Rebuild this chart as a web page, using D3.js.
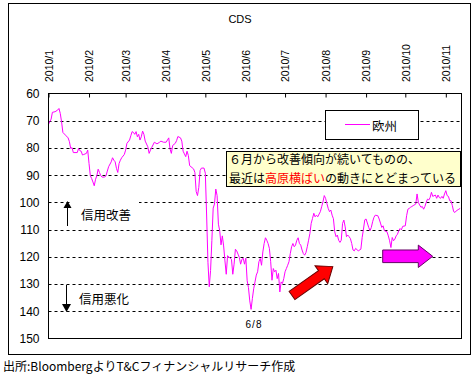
<!DOCTYPE html>
<html><head><meta charset="utf-8">
<script src="https://cdn.jsdelivr.net/npm/d3@7"></script>
<style>
body{margin:0;background:#fff;}
svg text{font-family:"Liberation Sans",Arial,sans-serif;}
.jp{font-family:"Noto Sans CJK JP","Noto Sans",sans-serif;}
</style>
</head><body>
<svg id="c" width="475" height="374"></svg>
<script>
const title = "CDS";
const seriesName = "欧州";
const monthTickLabels = ["2010/1","2010/2","2010/3","2010/4","2010/5","2010/6","2010/7","2010/8","2010/9","2010/10","2010/11"];
const monthTickDates = ["01-01","02-01","03-01","04-01","05-01","06-01","07-01","08-01","09-01","10-01","11-01"];
const yTicks = [60,70,80,90,100,110,120,130,140,150];
const gridValues = [70,80,90,100,110,120,130,140];
const dates = [
"01-01","01-03","01-04","01-06","01-08","01-09","01-10","01-11","01-12","01-14","01-16","01-17","01-18","01-19","01-20","01-23","01-24","01-25","01-26","01-27","01-28","01-30","01-31",
"02-01","02-02","02-03","02-04","02-05","02-06","02-07","02-08","02-09","02-10","02-11","02-13","02-14","02-15","02-16","02-18","02-19","02-20","02-21","02-22","02-23","02-24","02-25","02-26","02-28",
"03-01","03-02","03-04","03-05","03-06","03-07","03-08","03-09","03-10","03-11","03-12","03-13","03-14","03-15","03-16","03-18","03-19","03-20","03-21","03-23","03-25","03-27","03-28","03-30",
"04-01","04-03","04-04","04-05","04-06","04-08","04-09","04-10","04-12","04-13","04-14","04-15","04-16","04-17","04-18","04-19","04-20","04-22","04-23","04-24","04-25","04-26","04-27","04-28","04-30",
"05-01","05-02","05-03","05-04","05-05","05-06","05-07","05-08","05-09","05-10","05-11","05-12","05-13","05-14","05-15","05-16","05-17","05-18","05-20","05-21","05-22","05-23","05-24","05-25","05-26","05-27","05-28","05-29","05-30","05-31",
"06-01","06-02","06-03","06-04","06-05","06-06","06-07","06-08","06-09","06-10","06-11","06-12","06-13","06-14","06-15","06-16","06-17","06-18","06-19","06-20","06-21","06-22","06-23","06-24","06-25","06-26","06-27","06-28","06-29","06-30",
"07-01","07-02","07-03","07-04","07-05","07-06","07-07","07-08","07-09","07-10","07-11","07-12","07-13","07-14","07-15","07-16","07-17","07-18","07-19","07-20","07-21","07-22","07-23","07-24","07-25","07-26","07-28","07-29","07-30","07-31",
"08-01","08-02","08-03","08-04","08-05","08-06","08-07","08-08","08-09","08-10","08-11","08-12","08-13","08-14","08-15","08-16","08-17","08-18","08-19","08-20","08-21","08-22","08-23","08-24","08-26","08-28","08-29","08-30","08-31",
"09-01","09-03","09-04","09-05","09-06","09-07","09-08","09-10","09-11","09-12","09-13","09-14","09-15","09-17","09-18","09-19","09-20","09-21","09-22","09-23","09-24","09-25","09-26","09-27","09-28","09-29",
"10-01","10-02","10-03","10-04","10-05","10-06","10-07","10-09","10-10","10-11","10-12","10-13","10-14","10-15","10-16","10-17","10-18","10-19","10-20","10-21","10-22","10-24","10-25","10-26","10-27","10-28","10-29","10-30","10-31",
"11-01","11-02","11-03","11-04","11-05","11-06","11-07","11-08","11-09","11-11","11-12"
];
const cds = [
71.3,69.4,66.9,66.7,66.1,65.5,67.3,70.4,74.3,75.3,76.3,77.7,80.2,79.9,81.7,81.7,80.2,81.0,81.2,82.6,82.4,82.0,80.8,
85.7,90.2,91.2,92.5,93.9,91.5,90.2,87.8,89.0,90.2,90.7,90.7,90.2,88.5,86.9,85.1,83.6,84.5,85.1,87.5,89.0,85.7,84.5,83.6,82.4,
80.8,78.3,77.1,75.5,74.0,74.3,75.0,74.0,75.9,75.0,77.1,75.9,73.8,75.0,77.5,79.6,82.0,80.8,79.8,77.9,78.5,77.9,77.5,77.9,
77.9,76.3,80.4,82.0,79.1,78.3,77.3,75.8,76.3,77.5,81.2,82.2,83.2,81.2,82.8,86.5,86.9,87.7,89.0,96.0,97.5,94.5,88.3,87.4,87.4,
89.3,105.0,122.0,131.0,125.0,114.0,102.1,100.6,95.1,97.5,108.0,110.4,115.6,112.3,116.0,121.5,126.4,119.6,120.5,120.9,126.4,122.7,117.2,117.8,119.0,120.2,122.7,120.9,120.5,122.7,
120.5,128.8,131.3,136.2,139.3,135.3,131.7,129.2,126.7,125.5,121.8,120.6,123.1,118.2,115.1,113.0,113.9,115.1,116.9,121.8,128.6,124.3,125.5,124.9,128.0,126.1,132.9,129.2,129.8,128.0,
125.5,124.3,123.1,121.8,118.8,116.3,115.1,116.3,115.7,113.9,113.0,115.1,115.7,117.5,118.8,119.4,118.4,116.3,113.9,111.4,107.7,105.9,104.0,105.3,104.7,105.3,103.4,101.6,99.8,97.5,
98.5,100.4,102.2,103.4,102.8,104.7,106.0,110.8,112.6,112.0,113.9,114.7,113.9,107.7,106.5,109.0,112.6,112.0,112.6,113.3,115.1,117.5,117.8,116.9,117.8,117.2,112.9,109.8,106.4,
106.1,109.2,110.4,109.2,107.1,105.5,104.7,104.9,106.1,107.6,109.2,108.6,110.4,110.8,112.3,114.1,116.6,112.9,114.1,113.5,112.3,111.7,110.4,109.6,110.1,108.8,
108.6,104.9,102.5,102.2,101.8,101.5,101.2,100.6,96.9,100.0,101.0,101.8,101.5,102.5,101.5,100.0,98.8,99.1,98.2,96.3,97.8,97.3,98.5,97.3,98.2,98.5,97.8,98.5,96.9,
95.7,97.5,97.8,99.4,99.4,101.2,103.4,103.7,103.1,102.5,102.2
];
const noteLine1 = "６月から改善傾向が続いてものの、";
const noteLine2 = [["最近は","#000"],["高原横ばい","#FF0000"],["の動きにとどまっている","#000"]];
const upLabel = "信用改善";
const downLabel = "信用悪化";
const troughLabel = "6/8";
const sourceText = "出所:BloombergよりT&Cフィナンシャルリサーチ作成";

const parse = d3.timeParse("%Y-%m-%d");
const data = dates.map((d,i)=>({date:parse("2010-"+d), v:cds[i]}));

const svg = d3.select("#c");
const L=48.5, R=461.5, T=93.5, B=338.5;
const x = d3.scaleTime().domain([parse("2010-01-01"), parse("2010-11-13")]).range([L,R]);
const y = d3.scaleLinear().domain([60,150]).range([T,B]);

// outer frame
svg.append("rect").attr("x",8.5).attr("y",3.5).attr("width",462).attr("height",351)
  .attr("fill","#fff").attr("stroke","#000").attr("stroke-width",1);

svg.append("text").attr("x",240).attr("y",19).attr("text-anchor","middle")
  .attr("dominant-baseline","central").style("font-size","11px").text(title);

// gridlines
svg.append("g").selectAll("line").data(gridValues).join("line")
  .attr("x1",L).attr("x2",R).attr("y1",d=>Math.round(y(d))+0.5).attr("y2",d=>Math.round(y(d))+0.5)
  .attr("stroke","#000").attr("stroke-width",1).attr("stroke-dasharray","3,3");

// y axis labels
const ya = svg.append("g").attr("transform",`translate(${L},0)`)
  .call(d3.axisLeft(y).tickValues(yTicks).tickSize(0).tickPadding(9).tickFormat(d3.format("d")));
ya.select(".domain").remove();
ya.selectAll("text").style("font-size","12px").style("font-family","'Liberation Sans',Arial,sans-serif").attr("fill","#000");

// top axis with month ticks
const tickDates = monthTickDates.map(d=>parse("2010-"+d));
const xa = svg.append("g").attr("transform",`translate(0,${T})`)
  .call(d3.axisTop(x).tickValues(tickDates).tickSize(-4).tickFormat((d,i)=>monthTickLabels[i]));
xa.select(".domain").remove();
xa.selectAll("line").attr("stroke","#000");
xa.selectAll("text").attr("transform","rotate(-90)").attr("x",11.5).attr("y",0).attr("dy","0.36em")
  .attr("text-anchor","start").style("font-size","10.5px").style("font-family","'Liberation Sans',Arial,sans-serif").attr("fill","#000");

// white box behind 信用改善
svg.append("rect").attr("x",71).attr("y",197).attr("width",68).attr("height",28).attr("fill","#fff");

// line
svg.append("path").datum(data)
  .attr("d",d3.line().x(d=>x(d.date)).y(d=>y(d.v)))
  .attr("fill","none").attr("stroke","#FF00FF").attr("stroke-width",1);

// plot border
svg.append("rect").attr("x",L).attr("y",T).attr("width",R-L).attr("height",B-T)
  .attr("fill","none").attr("stroke","#000").attr("stroke-width",1);

// legend
svg.append("rect").attr("x",325.5).attr("y",110.5).attr("width",93).attr("height",29)
  .attr("fill","#fff").attr("stroke","#000");
svg.append("line").attr("x1",345).attr("x2",370).attr("y1",124.5).attr("y2",124.5).attr("stroke","#FF00FF");
svg.append("text").attr("class","jp").attr("x",372).attr("y",125).attr("dominant-baseline","central")
  .style("font-size","12.5px").text(seriesName);

// annotation
svg.append("rect").attr("x",226.5).attr("y",151.5).attr("width",234).attr("height",35)
  .attr("fill","#FFFFCC").attr("stroke","#000");
svg.append("text").attr("class","jp").attr("x",229).attr("y",158.5).attr("dominant-baseline","central")
  .style("font-size","12px").text(noteLine1);
const t2 = svg.append("text").attr("class","jp").attr("x",229).attr("y",176.5).attr("dominant-baseline","central")
  .style("font-size","12px");
noteLine2.forEach(([s,c])=>t2.append("tspan").attr("fill",c).text(s));

// up/down arrows and labels
const ax = 67.5;
svg.append("line").attr("x1",ax).attr("x2",ax).attr("y1",226).attr("y2",207).attr("stroke","#000");
svg.append("path").attr("d",`M${ax},201 L${ax-4},208 L${ax+4},208 Z`).attr("fill","#000");
svg.append("text").attr("class","jp").attr("x",81).attr("y",214).attr("dominant-baseline","central")
  .style("font-size","12.5px").text(upLabel);
const dx = 66.5;
svg.append("line").attr("x1",dx).attr("x2",dx).attr("y1",285).attr("y2",305).attr("stroke","#000");
svg.append("path").attr("d",`M${dx},312 L${dx-4.5},304 L${dx+4.5},304 Z`).attr("fill","#000");
svg.append("text").attr("class","jp").attr("x",79).attr("y",298).attr("dominant-baseline","central")
  .style("font-size","12.5px").text(downLabel);

// trough label
svg.append("text").attr("x",254).attr("y",324).attr("text-anchor","middle").attr("dominant-baseline","central")
  .style("font-size","10px").style("letter-spacing","1px").text(troughLabel);

// red block arrow
const redPts = [[0,-5],[36,-5],[36,-11],[50,0],[36,11],[36,5],[0,5]];
svg.append("polygon").attr("points",redPts.map(p=>p.join(",")).join(" "))
  .attr("transform","translate(292,295.5) rotate(-35.3)")
  .attr("fill","#FF0000").attr("stroke","#660000").attr("stroke-width",1);

// magenta block arrow
const magPts = [[0,-6.3],[35.6,-6.3],[35.6,-11.2],[50,0],[35.6,11.2],[35.6,6.3],[0,6.3]];
svg.append("polygon").attr("points",magPts.map(p=>p.join(",")).join(" "))
  .attr("transform","translate(382.7,256.3)")
  .attr("fill","#FF00FF").attr("stroke","#660066").attr("stroke-width",1);

// source
svg.append("text").attr("class","jp").attr("x",3).attr("y",365).attr("dominant-baseline","central")
  .style("font-size","12px").text(sourceText);
</script>
</body></html>
